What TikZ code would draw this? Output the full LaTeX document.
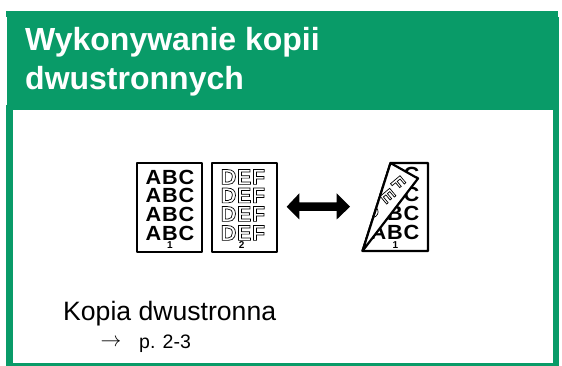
\documentclass[tikz,border=0pt]{standalone}
\usepackage{fontspec}
\setmainfont{Liberation Sans}
\newfontfamily\spaced[FakeStretch=1.06,LetterSpace=4.5]{Liberation Sans}
\newfontfamily\spacedout[LetterSpace=3]{Liberation Sans}
\newcommand{\outl}[1]{\special{pdf:code 1 Tr 0.7 w}#1\special{pdf:code 0 Tr}}
\definecolor{brandgreen}{RGB}{9,155,104}
\tikzset{
  x=1pt,y=-1pt,
  title/.style={anchor=base west,inner sep=0,text=white,font=\fontsize{32}{32}\selectfont\bfseries},
  rowabc/.style={anchor=center,inner sep=0,font=\fontsize{20.5}{21}\selectfont\spaced\bfseries},
  rowdef/.style={anchor=center,inner sep=0,font=\fontsize{21.5}{22}\selectfont\spacedout\bfseries},
  foldletter/.style={anchor=center,inner sep=0,rotate=-50,font=\fontsize{18}{18}\selectfont\bfseries},
  pageno/.style={anchor=center,inner sep=0,font=\fontsize{10}{10}\selectfont\bfseries},
  sheet/.style={draw=black,line width=2.2pt,fill=white,line join=round},
}
\begin{document}
\begin{tikzpicture}
\useasboundingbox (0,0) rectangle (562,366);
\fill[white] (0,0) rectangle (562,366);
% frame
\fill[brandgreen] (6,105) rectangle (12.7,365.7);
\fill[brandgreen] (553,16.7) rectangle (559,365.7);
\fill[brandgreen] (6,362.7) rectangle (559,365.7);
\fill[brandgreen] (6,11) rectangle (557.7,16.7);
\fill[brandgreen] (6.7,11) rectangle (553,105);
\fill[brandgreen] (6,105) rectangle (553,110);
\node[title] (t1) at (25,51) {Wykonywanie kopii};
\node[title] (t2) at (25,90) {dwustronnych};
% page 1
\draw[sheet] (137.1,163.1) rectangle (202.2,252);
\foreach \y/\n in {177/a,195.5/b,214/c,233/d}{\node[rowabc] (abc\n) at (170,\y) {ABC};}
\node[pageno] (n1) at (170,245.3) {1};
% page 2
\draw[sheet] (211.8,163.1) rectangle (277.2,252);
\foreach \y/\n in {177/a,195.5/b,214/c,233/d}{\node[rowdef] (def\n) at (243,\y) {\outl{DEF}};}
\node[pageno] (n2) at (241.7,245.3) {2};
% arrow
\fill[black] (286.7,206.7) -- (299.3,193.3) -- (299.3,202.5) -- (336.7,202.5) -- (336.7,193.3) -- (350,206.7) -- (336.7,219.5) -- (336.7,211) -- (299.3,211) -- (299.3,219.5) -- cycle;
% folded sheet
\draw[sheet] (390.5,163) -- (428,163) -- (428,251) -- (362.5,251) -- cycle;
\begin{scope}
\clip (390.5,163) -- (428,163) -- (428,251) -- (362.5,251) -- cycle;
\node[rowabc] (fa) at (395,174) {ABC};
\node[rowabc] (fb) at (395,194) {ABC};
\node[rowabc] (fc) at (395,213) {ABC};
\node[rowabc] (fd) at (395,232) {ABC};
\end{scope}
\node[pageno] (n3) at (395.5,245) {1};
\draw[sheet] (362.5,251) -- (390.5,163) -- (418,178.5) -- cycle;
\begin{scope}
\clip (362.5,251) -- (390.5,163) -- (418,178.5) -- cycle;
\node[foldletter] (ff) at (398,183) {\outl{F}};
\node[foldletter] (fe) at (388,196) {\outl{E}};
\node[foldletter] (fdd) at (372,212) {\outl{D}};
\end{scope}
% text
\node[anchor=base west,inner sep=0,font=\fontsize{26.6}{26.6}\selectfont] (k) at (63,320) {Kopia dwustronna};
\node[anchor=base west,inner sep=0,font=\fontsize{19.5}{19.5}\selectfont] (p) at (139,348.5) {p. 2-3};
\node[anchor=center,inner sep=0,font=\fontsize{22}{22}\selectfont] (ar) at (111,343) {$\rightarrow$};
\end{tikzpicture}
\end{document}
